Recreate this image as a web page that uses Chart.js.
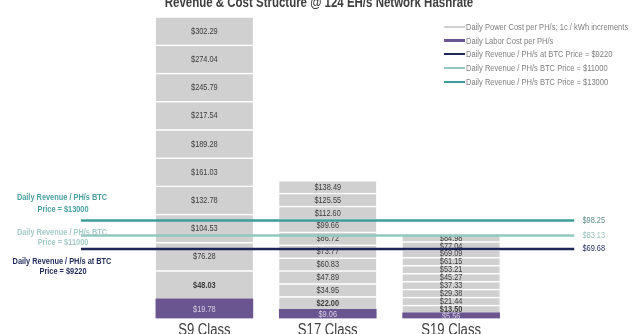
<!DOCTYPE html>
<html>
<head>
<meta charset="utf-8">
<script src="https://cdn.jsdelivr.net/npm/chart.js@4.4.1/dist/chart.umd.min.js"></script>
<style>
  html, body { margin: 0; padding: 0; background: #fff; overflow: hidden; }
  #wrap { position: relative; width: 640px; height: 334px; overflow: hidden; }
  #chart { position: absolute; left: 0; top: 0; }
  #legend {
    position: absolute; left: 444px; top: 20px;
    font-family: 'Liberation Sans', Arial, sans-serif;
    font-size: 9px; color: #7f7f7f;
  }
  #legend .row { height: 13.7px; display: flex; align-items: center; white-space: nowrap; }
  #legend .mk { display: inline-block; width: 21px; margin-right: 1px; flex: none; }
  #legend .tx { display: inline-block; transform: scaleX(0.84); transform-origin: left center; }
</style>
</head>
<body>
<div id="wrap">
  <canvas id="chart" width="640" height="334"></canvas>
  <div id="legend"></div>
</div>
<script>
const FONT = "'Liberation Sans', Arial, sans-serif";
const NARROW = 0.82; // the source chart uses a condensed face

const categories = ["S9 Class", "S17 Class", "S19 Class"];

// cumulative daily cost per PH/s: labor first, then each 1c / kWh of power on top
const s9Cost = [19.78, 48.03, 76.28, 104.53, 132.78, 161.03, 189.28, 217.54, 245.79, 274.04, 302.29];
const s17Cost = [9.06, 22.00, 34.95, 47.89, 60.83, 73.77, 86.72, 99.66, 112.60, 125.55, 138.49];
const s19Cost = [5.56, 13.50, 21.44, 29.38, 37.33, 45.27, 53.21, 61.15, 69.09, 77.04, 84.98];

// daily revenue per PH/s at three BTC prices
const revenueValues = [69.68, 83.13, 98.25];
const revenueNames = [
  "Daily Revenue / PH/s at BTC Price = $9220",
  "Daily Revenue / PH/s BTC Price = $11000",
  "Daily Revenue / PH/s BTC Price = $13000",
];
const revenueNotes = [
  ["Daily Revenue / PH/s at BTC", "Price = $9220"],
  ["Daily Revenue / PH/s BTC", "Price = $11000"],
  ["Daily Revenue / PH/s BTC", "Price = $13000"],
];

const costByClass = [s9Cost, s17Cost, s19Cost];
const laborColor = "#6b5591";
const powerColor = "#d0d0d0";
const lineColors = ["#1c2757", "#93c8c2", "#3e9e97"];
const noteColors = ["#1f2a5a", "#a3ccc8", "#4a9fa0"];
const valueColors = ["#1f2a5a", "#98c2be", "#5b8a87"];

const barCommon = {
  type: "bar",
  grouped: false,
  barThickness: 97,
  borderColor: "#ffffff",
  borderWidth: { top: 1.5, bottom: 0, left: 0, right: 0 },
  borderSkipped: false,
  order: 1,
};

const datasets = [];
revenueValues.forEach((v, i) => {
  datasets.push({
    type: "line",
    label: revenueNames[i],
    data: [{ x: 0, y: v }, { x: 4, y: v }],
    borderColor: lineColors[i],
    borderWidth: 2.5,
    pointRadius: 0,
    order: 0,
  });
});
datasets.push(Object.assign({}, barCommon, {
  label: "Daily Labor Cost per PH/s",
  data: categories.map((c, i) => ({ x: i + 1, y: [0, costByClass[i][0]] })),
  backgroundColor: laborColor,
  borderWidth: 0,
  labor: true,
}));
for (let k = 1; k < s9Cost.length; k++) {
  datasets.push(Object.assign({}, barCommon, {
    label: "Daily Power Cost per PH/s; 1c / kWh increments",
    data: categories.map((c, i) => ({ x: i + 1, y: [costByClass[i][k - 1], costByClass[i][k]] })),
    backgroundColor: powerColor,
    step: k,
  }));
}

function narrowText(ctx, text, x, y) {
  ctx.save();
  ctx.translate(x, y);
  ctx.scale(NARROW, 1);
  ctx.fillText(text, 0, 0);
  ctx.restore();
}

// labels inside each bar segment (drawn right after that segment, so lines cover them)
const segmentLabels = {
  id: "segmentLabels",
  afterDatasetDraw(chart, args) {
    const meta = args.meta;
    if (meta.type !== "bar") return;
    const ds = chart.data.datasets[args.index];
    const ctx = chart.ctx;
    ctx.save();
    ctx.textAlign = "center";
    ctx.textBaseline = "middle";
    ctx.font = (ds.step === 1 ? "bold " : "") + "9px " + FONT;
    ctx.fillStyle = ds.labor ? "#d6cde2" : "#3c3c3c";
    meta.data.forEach((bar, j) => {
      const val = ds.data[j].y[1];
      narrowText(ctx, "$" + val.toFixed(2), bar.x, (bar.y + bar.base) / 2 + 0.5);
    });
    ctx.restore();
  },
};

// title, category names, revenue notes on the left and values on the right
const extras = {
  id: "extras",
  afterDraw(chart) {
    const ctx = chart.ctx;
    const x = chart.scales.x;
    const y = chart.scales.y;
    const area = chart.chartArea;
    ctx.save();
    ctx.textAlign = "center";
    ctx.textBaseline = "alphabetic";
    ctx.fillStyle = "#3f3f3f";
    ctx.font = "bold 14px " + FONT;
    narrowText(ctx, "Revenue & Cost Structure @ 124 EH/s Network Hashrate", 319, 7);

    ctx.textBaseline = "top";
    ctx.fillStyle = "#404040";
    ctx.font = "16px " + FONT;
    categories.forEach((c, i) => {
      narrowText(ctx, c, x.getPixelForValue(i + 1), area.bottom + 4);
    });

    const noteOffsets = [[13, 23], [-3, 7], [-23, -11]];
    ctx.font = "bold 9px " + FONT;
    ctx.textBaseline = "middle";
    revenueValues.forEach((v, i) => {
      const py = y.getPixelForValue(v);
      ctx.fillStyle = noteColors[i];
      narrowText(ctx, revenueNotes[i][0], 62, py + noteOffsets[i][0]);
      narrowText(ctx, revenueNotes[i][1], 63, py + noteOffsets[i][1]);
    });
    ctx.font = "9px " + FONT;
    ctx.textAlign = "left";
    revenueValues.forEach((v, i) => {
      ctx.fillStyle = valueColors[i];
      narrowText(ctx, "$" + v.toFixed(2), area.right + 8, y.getPixelForValue(v));
    });
    ctx.restore();
  },
};

new Chart(document.getElementById("chart").getContext("2d"), {
  data: { datasets: datasets },
  options: {
    responsive: false,
    animation: false,
    devicePixelRatio: 1,
    layout: { padding: { left: 81, right: 65.5, top: 10, bottom: 15.5 } },
    plugins: { legend: { display: false }, tooltip: { enabled: false }, title: { display: false } },
    scales: {
      x: { type: "linear", display: false, offset: false, grid: { offset: false }, min: 0, max: 4 },
      y: { display: false, min: 0, max: 309 },
    },
  },
  plugins: [segmentLabels, extras],
});

// legend, top right
const legendItems = [
  { text: "Daily Power Cost per PH/s; 1c / kWh increments", color: powerColor, h: 2 },
  { text: "Daily Labor Cost per PH/s", color: laborColor, h: 3 },
].concat(revenueNames.map((n, i) => ({ text: n, color: lineColors[i], h: 2 })));
document.getElementById("legend").innerHTML = legendItems.map((it) =>
  '<div class="row"><span class="mk" style="height:' + it.h + 'px;background:' + it.color + '"></span><span class="tx">' + it.text + "</span></div>"
).join("");
</script>
</body>
</html>
